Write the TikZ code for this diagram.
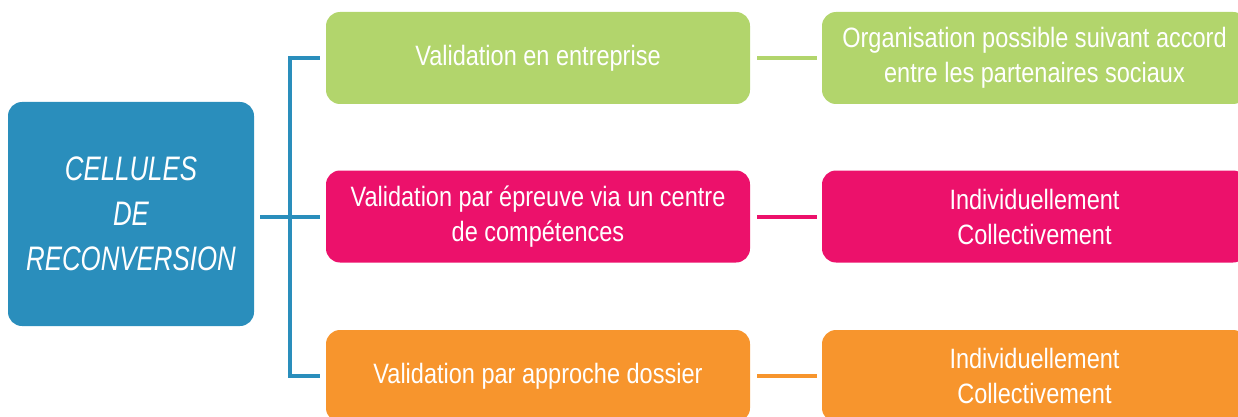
\documentclass[tikz,border=0pt]{standalone}
\usepackage{fontspec}
\setmainfont{Liberation Sans}[FakeStretch=0.84]
\newfontfamily\cellfont{Liberation Sans}[FakeStretch=0.76]
\definecolor{cellblue}{HTML}{2A8EBC}
\definecolor{lgreen}{HTML}{B2D56C}
\definecolor{lpink}{HTML}{EC116B}
\definecolor{lorange}{HTML}{F7952D}
\tikzset{
  box/.style={rounded corners=14pt, inner sep=4pt, text=white, align=center,
    minimum height=92pt, font=\fontsize{28}{35}\selectfont},
  link/.style={line width=4pt}
}
\begin{document}
\begin{tikzpicture}[x=1pt,y=-1pt]
\useasboundingbox (0,0) rectangle (1238,417);
\node[box, fill=cellblue, minimum width=246pt, minimum height=224pt,
  font=\cellfont\fontsize{34}{45}\selectfont\itshape] (cell) at (131,214) {CELLULES\\DE\\RECONVERSION};

\foreach \n/\c/\y/\a/\b in {
    1/lgreen/58/{Validation en entreprise}/{Organisation possible suivant accord\\entre les partenaires sociaux},
    2/lpink/216.5/{Validation par épreuve via un centre\\de compétences}/{Individuellement\\Collectivement},
    3/lorange/376/{Validation par approche dossier}/{Individuellement\\Collectivement}} {
  \node[box, fill=\c, minimum width=424pt] (v\n) at (538,\y) {\a};
  \node[box, fill=\c, minimum width=425pt] (o\n) at (1034.5,\y) {\b};
  \draw[link, \c] ([xshift=7pt]v\n.east) -- ([xshift=-5pt]o\n.west);
}

% bracket
\coordinate (j) at (290,216.5);
\draw[link, cellblue] ([xshift=6pt]cell.east |- v2.west) -- ([xshift=-6pt]v2.west);
\draw[link, cellblue] ([xshift=-6pt]v1.west) -| (j) |- ([xshift=-6pt]v3.west);
\end{tikzpicture}
\end{document}
